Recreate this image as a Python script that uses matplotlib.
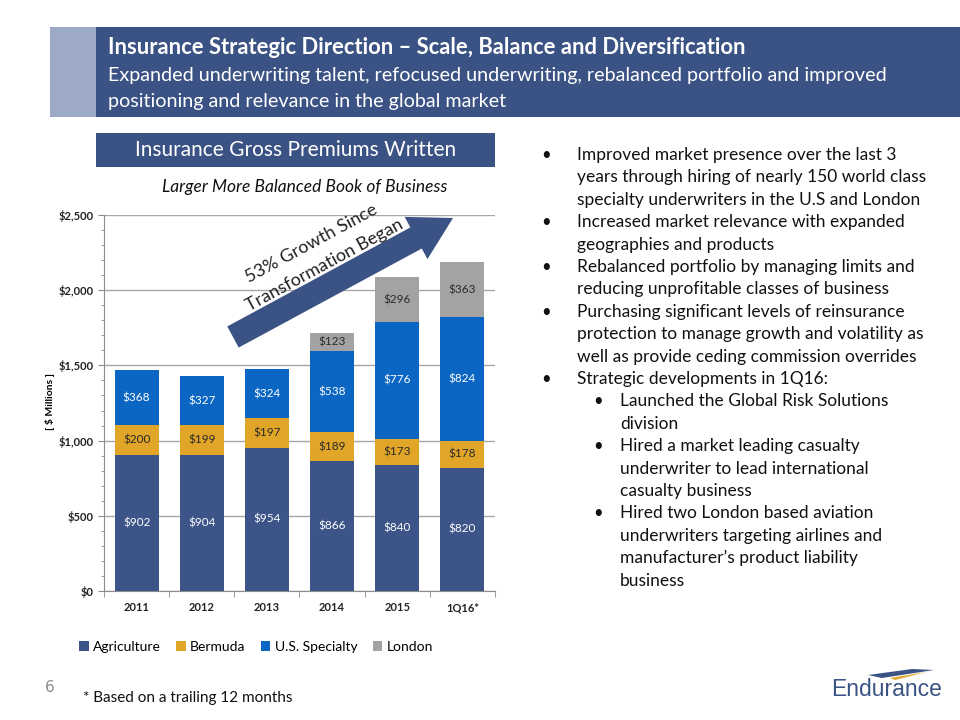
import matplotlib
matplotlib.use("Agg")
import matplotlib.pyplot as plt
from matplotlib.patches import Rectangle, Polygon
from matplotlib.ticker import FuncFormatter, MultipleLocator
import numpy as np

plt.rcParams['font.family'] = ['Lato', 'DejaVu Sans']

years = ['2011', '2012', '2013', '2014', '2015', '1Q16*']
agriculture = [902, 904, 954, 866, 840, 820]
bermuda = [200, 199, 197, 189, 173, 178]
us_specialty = [368, 327, 324, 538, 776, 824]
london = [0, 0, 0, 123, 296, 363]

series = [
    ('Agriculture', agriculture, '#3D5488', 'white'),
    ('Bermuda', bermuda, '#E1A527', '#2a2a2a'),
    ('U.S. Specialty', us_specialty, '#0A66C2', 'white'),
    ('London', london, '#A3A3A3', '#2a2a2a'),
]

bullets = [
    (0, ["Improved market presence over the last 3",
         "years through hiring of nearly 150 world class",
         "specialty underwriters in the U.S and London"]),
    (0, ["Increased market relevance with expanded",
         "geographies and products"]),
    (0, ["Rebalanced portfolio by managing limits and",
         "reducing unprofitable classes of business"]),
    (0, ["Purchasing significant levels of reinsurance",
         "protection to manage growth and volatility as",
         "well as provide ceding commission overrides"]),
    (0, ["Strategic developments in 1Q16:"]),
    (1, ["Launched the Global Risk Solutions",
         "division"]),
    (1, ["Hired a market leading casualty",
         "underwriter to lead international",
         "casualty business"]),
    (1, ["Hired two London based aviation",
         "underwriters targeting airlines and",
         "manufacturer\u2019s product liability",
         "business"]),
]

W, H = 960, 720
fig = plt.figure(figsize=(9.6, 7.2), dpi=100)

# full-figure overlay in pixel coordinates for slide decorations
bg = fig.add_axes([0, 0, 1, 1])
bg.set_xlim(0, W)
bg.set_ylim(H, 0)
bg.axis('off')

navy = '#3B5284'
bg.add_patch(Rectangle((50, 27), 46, 90, color='#9DAAC6', lw=0))
bg.add_patch(Rectangle((96, 27), W - 96, 90, color=navy, lw=0))
bg.text(108, 48, "Insurance Strategic Direction \u2013 Scale, Balance and Diversification",
        color='white', fontsize=15.8, fontweight='bold', va='center', ha='left')
bg.text(108, 76, "Expanded underwriting talent, refocused underwriting, rebalanced portfolio and improved",
        color='white', fontsize=14.2, va='center', ha='left')
bg.text(108, 101, "positioning and relevance in the global market",
        color='white', fontsize=14.2, va='center', ha='left')

bg.add_patch(Rectangle((96, 133), 399, 34, color=navy, lw=0))
bg.text(296, 150, "Insurance Gross Premiums Written", color='white', fontsize=15,
        ha='center', va='center')
bg.text(305, 187, "Larger More Balanced Book of Business", fontsize=12.5,
        style='italic', ha='center', va='center', color='#111111')

# right-hand bullet list
y = 155
for level, lines in bullets:
    bx = 546 if level == 0 else 598
    tx = 577 if level == 0 else 620
    bg.text(bx, y, "\u2022", fontsize=12, ha='center', va='center', color='#111111')
    for ln in lines:
        bg.text(tx, y, ln, fontsize=12.5, ha='left', va='center', color='#111111')
        y += 22.4

# footer
bg.text(50, 688, "6", fontsize=11, color='#8C8C8C', ha='center', va='center',
        family='DejaVu Sans')
bg.text(83, 698, "* Based on a trailing 12 months", fontsize=11, ha='left',
        va='center', color='#111111')
bg.text(887, 689, "Endurance", fontsize=16.5, ha='center', va='center',
        color=navy, family='Liberation Sans')
bg.add_patch(Polygon([[868, 675], [912, 669], [934, 670], [882, 678]], color=navy, lw=0))
bg.add_patch(Polygon([[890, 678], [926, 672], [934, 670], [895, 680]], color='#E1A527', lw=0))

# chart
ax = fig.add_axes([104 / W, 1 - 591 / H, (495 - 104) / W, (591 - 215) / H])
ax.set_zorder(2)
ax.patch.set_alpha(0)
x = np.arange(len(years))
bottom = np.zeros(len(years))
handles = []
for name, vals, col, tcol in series:
    vals = np.array(vals, dtype=float)
    b = ax.bar(x, vals, 0.675, bottom=bottom, color=col, label=name, zorder=3)
    handles.append(b)
    for xi, v, b0 in zip(x, vals, bottom):
        if v > 0:
            ax.text(xi, b0 + v / 2, f"${int(v)}", ha='center', va='center',
                    fontsize=8.5, color=tcol, zorder=4)
    bottom += vals

ax.set_xlim(-0.5, len(years) - 0.5)
ax.set_ylim(0, 2500)
ax.yaxis.set_major_locator(MultipleLocator(500))
ax.yaxis.set_minor_locator(MultipleLocator(100))
ax.yaxis.set_major_formatter(FuncFormatter(lambda v, p: f"${v:,.0f}"))
ax.grid(axis='y', color='#A6A6A6', lw=1, zorder=0)
ax.set_xticks(x)
ax.set_xticklabels(years)
ax.set_xticks(np.arange(-0.5, len(years)), minor=True)
ax.tick_params(axis='x', which='major', length=0, labelsize=8, pad=8, labelcolor='#222222')
ax.tick_params(axis='x', which='minor', length=4, color='#8C8C8C')
ax.tick_params(axis='y', which='major', length=4, labelsize=8, color='#8C8C8C', labelcolor='#222222')
ax.tick_params(axis='y', which='minor', length=2, color='#8C8C8C')
for lbl in ax.get_xticklabels() + ax.get_yticklabels():
    lbl.set_fontweight('bold')
for s in ['top', 'right']:
    ax.spines[s].set_visible(False)
for s in ['left', 'bottom']:
    ax.spines[s].set_color('#8C8C8C')
ax.set_ylabel("[ $ Millions ]", fontsize=7.5, fontweight='bold')
ax.yaxis.set_label_coords(-0.125, 0.503)

fig.legend(handles=handles, labels=[s[0] for s in series], loc='center',
           bbox_to_anchor=(256 / W, 1 - 647 / H), ncol=4, frameon=False,
           fontsize=10, handlelength=0.7, handleheight=0.7, columnspacing=1.1,
           handletextpad=0.3)

# growth arrow on top
top = fig.add_axes([0, 0, 1, 1])
top.set_xlim(0, W)
top.set_ylim(H, 0)
top.axis('off')
top.set_zorder(5)
tail = np.array([233.0, 337.0])
tip = np.array([453.0, 218.0])
d = tip - tail
L = np.hypot(*d)
u = d / L
n = np.array([u[1], -u[0]])
head_len, shaft_w, head_w = 42, 24, 48
hb = tip - u * head_len
pts = [tail + n * shaft_w / 2, hb + n * shaft_w / 2, hb + n * head_w / 2, tip,
       hb - n * head_w / 2, hb - n * shaft_w / 2, tail - n * shaft_w / 2]
top.add_patch(Polygon(pts, color=navy, lw=0))
ang = np.degrees(np.arctan2(-d[1], d[0]))
top.text(311, 244, "53% Growth Since", rotation=ang, fontsize=13, ha='center',
         va='center', color='#222222', rotation_mode='anchor')
top.text(325, 265, "Transformation Began", rotation=ang, fontsize=13, ha='center',
         va='center', color='#222222', rotation_mode='anchor')

fig.savefig("out.png", dpi=100)
